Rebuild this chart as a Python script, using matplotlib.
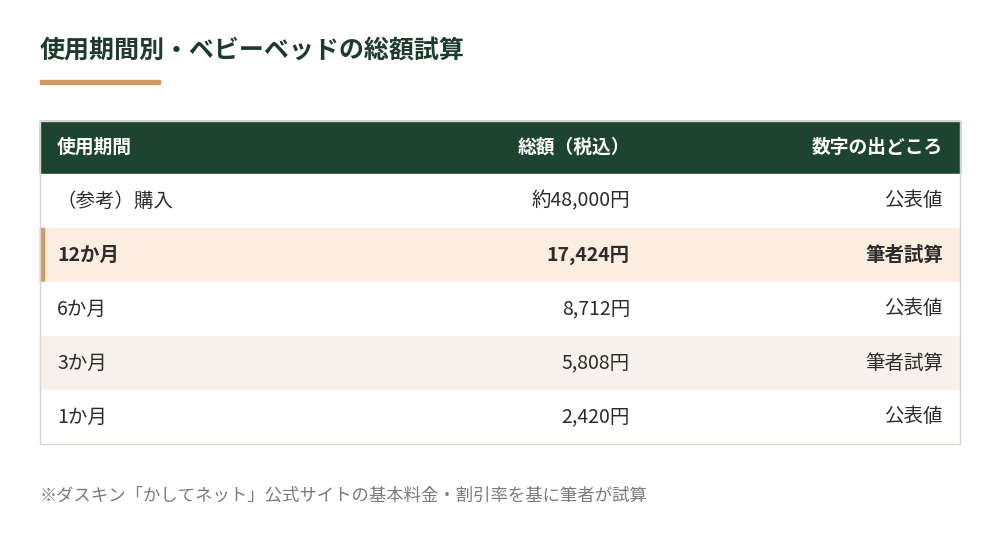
import matplotlib
matplotlib.use("AGG")
import matplotlib.pyplot as plt
from matplotlib.patches import Rectangle

plt.rcParams["font.family"] = ["Noto Sans CJK JP", "DejaVu Sans"]

# ── Data ───────────────────────────────────────────────
TITLE = "使用期間別・ベビーベッドの総額試算"
HEADERS = ["使用期間", "総額（税込）", "数字の出どころ"]
PERIODS = ["（参考）購入", "12か月", "6か月", "3か月", "1か月"]
TOTALS = ["約48,000円", "17,424円", "8,712円", "5,808円", "2,420円"]
SOURCES = ["公表値", "筆者試算", "公表値", "筆者試算", "公表値"]
HIGHLIGHT = 1
NOTE = "※ダスキン「かしてネット」公式サイトの基本料金・割引率を基に筆者が試算"

# ── Palette ────────────────────────────────────────────
GREEN = "#1c4430"
TITLE_C = "#1f3b2c"
ORANGE = "#d39a66"
HL_BG = "#fbeee1"
ALT_BG = "#f6f1ea"
TEXT = "#2b2b2b"
NOTE_C = "#7a7a7a"
BORDER = "#d9d4cc"

W, H = 1000, 554
fig = plt.figure(figsize=(10, 5.54), dpi=100, facecolor="white")
ax = fig.add_axes([0, 0, 1, 1])
ax.set_xlim(0, W)
ax.set_ylim(H, 0)
ax.axis("off")

ax.text(40, 52, TITLE, fontsize=18, fontweight="bold", color=TITLE_C, va="center")
ax.add_patch(Rectangle((40, 80), 120, 4, color=ORANGE))

x0, x1 = 40, 960
top, hh, rh = 121, 53, 54
cols = [(57, "left"), (630, "right"), (943, "right")]

ax.add_patch(Rectangle((x0, top), x1 - x0, hh, color=GREEN))
for (cx, ha), h in zip(cols, HEADERS):
    ax.text(cx, top + hh / 2, h, fontsize=13.5, fontweight="bold", color="white",
            ha=ha, va="center")

for i, row in enumerate(zip(PERIODS, TOTALS, SOURCES)):
    y = top + hh + i * rh
    bg = HL_BG if i == HIGHLIGHT else (ALT_BG if i == 3 else "white")
    ax.add_patch(Rectangle((x0, y), x1 - x0, rh, color=bg))
    if i == HIGHLIGHT:
        ax.add_patch(Rectangle((x0, y), 4, rh, color=ORANGE))
    for (cx, ha), t in zip(cols, row):
        ax.text(cx, y + rh / 2, t, fontsize=14, color=TEXT, ha=ha, va="center",
                fontweight="bold" if i == HIGHLIGHT else "normal")

bottom = top + hh + len(PERIODS) * rh
ax.add_patch(Rectangle((x0, top), x1 - x0, bottom - top, fill=False,
                       edgecolor=BORDER, linewidth=1))

ax.text(40, 496, NOTE, fontsize=12.5, color=NOTE_C, va="center")

fig.savefig("out.png", dpi=100, facecolor="white")
